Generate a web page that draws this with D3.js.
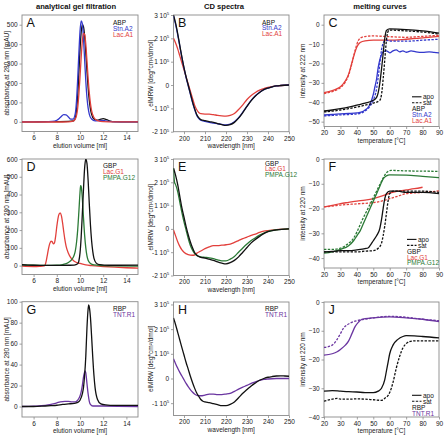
<!DOCTYPE html>
<html><head><meta charset="utf-8">
<script src="https://cdn.jsdelivr.net/npm/d3@7"></script>
<style>body{margin:0;background:#fff}svg text{font-family:"Liberation Sans",Arial,sans-serif}</style>
</head><body><svg id="c" width="444" height="435"></svg>
<script>
// ---------------- DATA ----------------
const columnTitles = ["analytical gel filtration", "CD spectra", "melting curves"];
const gelTicksX = [6, 8, 10, 12, 14];
const cdTicksX = [200, 210, 220, 230, 240, 250];
const meltTicksX = [20, 30, 40, 50, 60, 70, 80, 90];

// Panel A: gel filtration (elution volume ml, mAU)
const A_ABP = [[5,0],[6,0],[7,0.5],[8,1],[9,2],[9.4,4],[9.6,20],[9.7,60],[9.8,130],[9.9,250],[10.0,370],[10.1,460],[10.2,500],[10.3,490],[10.4,440],[10.5,355],[10.6,260],[10.7,175],[10.8,110],[10.9,65],[11.0,38],[11.2,14],[11.5,8],[11.8,14],[12.0,16],[12.3,11],[12.6,4],[13,1],[14,0],[15,0]];
const A_StnA2 = [[5,0],[7,0],[7.6,2],[8,8],[8.3,22],[8.6,37],[8.8,36],[9.0,25],[9.2,14],[9.4,14],[9.6,45],[9.7,110],[9.8,220],[9.9,350],[10.0,465],[10.1,520],[10.2,505],[10.3,430],[10.4,320],[10.5,210],[10.6,125],[10.7,72],[10.8,40],[11.0,14],[11.3,5],[11.8,7],[12.1,6],[12.5,2],[13,0],[15,0]];
const A_LacA1 = [[5,-1],[7,-1],[8,-1],[9,0],[9.4,3],[9.6,15],[9.8,70],[9.9,140],[10.0,230],[10.1,330],[10.2,415],[10.3,455],[10.4,450],[10.5,400],[10.6,315],[10.7,225],[10.8,150],[10.9,95],[11.0,58],[11.2,22],[11.5,6],[12,1],[13,0],[15,0]];

// Panel B: CD spectra (nm, 10^5 deg cm2/dmol)
const B_ABP = [[195,3.0],[196,2.65],[197,2.2],[198,1.7],[199,1.2],[200,0.75],[201,0.35],[202,0.0],[203,-0.35],[204,-0.7],[205,-1.0],[206,-1.25],[207,-1.4],[208,-1.48],[210,-1.53],[212,-1.57],[214,-1.6],[216,-1.65],[218,-1.7],[220,-1.73],[222,-1.7],[224,-1.6],[226,-1.42],[228,-1.18],[230,-0.92],[232,-0.67],[234,-0.47],[236,-0.32],[238,-0.2],[240,-0.13],[242,-0.08],[244,-0.04],[246,-0.02],[250,0]];
const B_StnA2 = [[195,2.95],[196,2.6],[197,2.15],[198,1.66],[199,1.17],[200,0.72],[201,0.32],[202,-0.03],[203,-0.38],[204,-0.73],[205,-1.03],[206,-1.28],[207,-1.43],[208,-1.51],[210,-1.56],[212,-1.6],[214,-1.63],[216,-1.66],[218,-1.69],[220,-1.71],[222,-1.68],[224,-1.57],[226,-1.4],[228,-1.16],[230,-0.9],[232,-0.66],[234,-0.46],[236,-0.31],[238,-0.2],[240,-0.13],[242,-0.08],[244,-0.04],[246,-0.02],[250,0]];
const B_LacA1 = [[195,2.0],[196,1.8],[197,1.55],[198,1.25],[199,0.95],[200,0.65],[201,0.35],[202,0.05],[203,-0.25],[204,-0.55],[205,-0.85],[206,-1.05],[207,-1.18],[208,-1.23],[210,-1.25],[212,-1.25],[214,-1.27],[216,-1.3],[218,-1.32],[220,-1.33],[222,-1.3],[224,-1.22],[226,-1.05],[228,-0.85],[230,-0.62],[232,-0.45],[234,-0.32],[236,-0.22],[238,-0.15],[240,-0.1],[244,-0.04],[250,0]];

// Panel C: melting curves (°C, intensity at 222 nm)
const C_ABP_apo = [[20,-44.5],[25,-44],[30,-43.3],[35,-42.5],[40,-41.5],[45,-40.5],[50,-39],[52,-37.5],[53,-35],[54,-30],[55,-23],[56,-15],[57,-7],[58,-3],[60,-2.2],[65,-2.3],[70,-2.5],[80,-3.2],[90,-4.3]];
const C_ABP_sat = [[20,-45],[25,-44.6],[30,-44],[35,-43.3],[40,-42.5],[45,-41.5],[50,-40.5],[54,-39],[55,-36],[56,-28],[57,-18],[58,-8],[59,-3.5],[60,-2.8],[70,-3.2],[80,-3.8],[90,-4.8]];
const C_StnA2_apo = [[20,-46.5],[25,-46.3],[30,-46],[35,-45.8],[40,-45.5],[43,-45],[45,-44],[47,-42.5],[48,-41],[50,-36],[51,-32],[52,-28],[53,-22],[54,-18],[55,-15.5],[56,-14],[58,-13.5],[60,-14.5],[62,-13.5],[64,-13],[66,-14],[68,-13.5],[70,-14.2],[73,-13.5],[76,-14],[80,-14.3],[84,-14],[87,-14.3],[90,-14.5]];
const C_StnA2_sat = [[20,-47],[25,-46.8],[30,-46.5],[35,-46.3],[40,-46],[43,-45.5],[45,-44.5],[48,-42],[50,-39],[52,-33],[53,-27],[54,-20],[55,-13],[56,-9.5],[57,-8.3],[58,-8],[60,-8.5],[70,-8.5],[80,-8],[90,-7.5]];
const C_LacA1_apo = [[20,-35],[25,-34],[28,-33],[30,-32],[33,-29],[35,-25.5],[37,-19.5],[38,-16.5],[40,-11.5],[42,-9.2],[45,-8.3],[50,-8],[60,-8],[70,-7.5],[80,-6.8],[90,-6]];
const C_LacA1_sat = [[20,-35.5],[25,-34.5],[28,-33.5],[30,-32.5],[33,-29.5],[35,-26],[37,-20],[39,-13],[41,-8],[43,-6.5],[46,-6],[50,-5.8],[60,-6.2],[70,-6.5],[80,-6],[90,-5.5]];

// Panel D: gel filtration
const D_GBP = [[5,5],[5.5,3],[6,2],[7,1],[8,1],[9,2],[9.5,3],[9.8,10],[9.9,25],[10.0,70],[10.1,160],[10.2,290],[10.3,430],[10.4,550],[10.5,600],[10.6,575],[10.7,480],[10.8,350],[10.9,230],[11.0,140],[11.1,80],[11.2,42],[11.4,14],[11.7,5],[12.5,2],[15,3]];
const D_LacG1 = [[5,-3],[6,-5],[6.5,-4],[6.9,-2],[7.0,5],[7.1,30],[7.2,65],[7.3,100],[7.4,125],[7.5,137],[7.6,135],[7.7,123],[7.8,128],[7.9,165],[8.0,220],[8.1,265],[8.2,290],[8.3,297],[8.4,280],[8.5,240],[8.6,190],[8.7,145],[8.8,110],[9.0,70],[9.2,45],[9.5,25],[10,12],[10.5,4],[11,0],[12,-5],[13,-9],[14,-12],[15,-14]];
const D_PMPAG12 = [[5,4],[6,2],[7,1],[8,2],[8.5,6],[9.0,18],[9.3,35],[9.5,60],[9.6,85],[9.7,130],[9.8,200],[9.9,300],[10.0,410],[10.05,450],[10.1,445],[10.2,380],[10.3,270],[10.4,170],[10.5,100],[10.6,55],[10.7,30],[10.9,12],[11.2,4],[12,0],[13,-2],[15,-3]];

// Panel E: CD spectra
const E_GBP = [[195,2.6],[196,2.3],[197,1.9],[198,1.4],[199,0.9],[200,0.5],[201,0.1],[202,-0.25],[203,-0.55],[204,-0.8],[205,-1.0],[206,-1.12],[207,-1.18],[208,-1.22],[210,-1.25],[212,-1.3],[214,-1.35],[216,-1.42],[218,-1.47],[220,-1.5],[222,-1.45],[224,-1.35],[226,-1.2],[228,-1.0],[230,-0.8],[232,-0.6],[234,-0.45],[236,-0.32],[238,-0.2],[240,-0.12],[244,-0.04],[250,0]];
const E_LacG1 = [[195,-0.05],[196,-0.3],[197,-0.55],[198,-0.75],[199,-0.9],[200,-1.0],[202,-1.1],[204,-1.13],[205,-1.12],[206,-1.05],[208,-0.95],[210,-0.85],[212,-0.77],[214,-0.72],[216,-0.72],[218,-0.7],[220,-0.68],[222,-0.65],[224,-0.58],[226,-0.5],[228,-0.42],[230,-0.35],[232,-0.28],[234,-0.22],[236,-0.15],[238,-0.1],[240,-0.07],[244,-0.03],[250,0]];
const E_PMPAG12 = [[195,2.6],[195.5,2.0],[196,1.9],[197,1.6],[198,1.15],[199,0.7],[200,0.3],[201,-0.05],[202,-0.4],[203,-0.7],[204,-0.9],[205,-1.05],[206,-1.13],[207,-1.18],[208,-1.2],[210,-1.22],[212,-1.24],[214,-1.28],[216,-1.33],[218,-1.37],[220,-1.37],[222,-1.3],[224,-1.18],[226,-1.0],[228,-0.82],[230,-0.65],[232,-0.5],[234,-0.38],[236,-0.27],[238,-0.18],[240,-0.11],[244,-0.04],[250,0]];

// Panel F: melting curves (intensity at 220 nm)
const F_GBP_apo = [[20,-37.5],[25,-37.3],[30,-37],[35,-37],[40,-36.7],[45,-36.2],[47,-35.8],[48,-35],[50,-33],[52,-31],[54,-28],[55,-24.5],[56,-20],[57,-16],[58,-14],[60,-13],[65,-13],[70,-13.5],[80,-13.5],[90,-14]];
const F_GBP_sat = [[20,-37.5],[30,-37.5],[40,-37.5],[45,-37.2],[50,-37],[53,-36],[55,-34],[56,-31],[57,-27],[58,-22],[59,-17],[60,-14],[62,-13],[70,-13],[80,-13],[90,-13.5]];
const F_LacG1_apo = [[20,-19.3],[25,-18.7],[30,-18],[35,-17.5],[40,-17],[45,-16.6],[50,-16],[55,-15],[60,-13.8],[65,-13],[70,-12.5],[75,-12],[80,-11.4]];
const F_LacG1_sat = [[20,-19.3],[25,-19],[30,-18.6],[40,-18.1],[50,-17.6],[55,-17],[60,-16],[65,-15],[70,-14],[80,-13.5],[90,-12.9]];
const F_PMPAG12_apo = [[20,-38],[25,-37.5],[30,-36.5],[35,-35],[38,-33],[40,-31],[42,-29],[44,-26],[46,-23],[48,-20],[50,-17],[52,-14],[54,-11],[56,-8],[58,-6.8],[60,-6.4],[70,-6.5],[80,-7],[90,-7.5]];
const F_PMPAG12_sat = [[20,-36.5],[25,-36.5],[30,-36],[35,-34],[38,-32],[40,-29.5],[43,-25],[46,-21],[49,-17],[52,-13],[55,-9],[57,-6.5],[59,-5],[61,-4.6],[70,-4.8],[80,-4.9],[90,-5]];

// Panel G: gel filtration
const G_RBP = [[5,0],[6,0],[7,0.5],[7.5,0.8],[8,1.2],[8.5,2],[9,2.5],[9.5,3],[9.8,4],[10.0,6],[10.2,12],[10.3,18],[10.4,30],[10.5,48],[10.6,75],[10.7,93],[10.75,97],[10.8,95],[10.9,85],[11.0,67],[11.1,47],[11.2,30],[11.3,18],[11.5,7],[11.8,2.5],[12.2,1.5],[13,1],[15,1]];
const G_TNTR1 = [[5,0],[6,0.3],[7,1],[7.5,2],[8,3.5],[8.3,4.5],[8.7,5],[9.0,5],[9.3,4.5],[9.6,4.5],[9.8,6],[10.0,10],[10.1,14],[10.2,20],[10.3,28],[10.4,33],[10.45,34],[10.5,32],[10.6,22],[10.7,12],[10.8,5],[10.9,2],[11.1,0.5],[12,0.5],[15,0]];

// Panel H: CD spectra
const H_RBP = [[195,2.45],[196,2.18],[197,1.87],[198,1.56],[199,1.25],[200,0.95],[201,0.65],[202,0.38],[203,0.1],[204,-0.15],[205,-0.38],[206,-0.58],[207,-0.72],[208,-0.85],[209,-0.92],[210,-0.95],[212,-0.98],[214,-1.02],[216,-1.06],[218,-1.1],[220,-1.1],[222,-1.05],[224,-0.95],[226,-0.78],[228,-0.6],[230,-0.45],[232,-0.3],[234,-0.18],[236,-0.07],[238,0.0],[240,0.05],[242,0.08],[244,0.1],[246,0.11],[248,0.1],[250,0.09]];
const H_TNTR1 = [[195,0.8],[196,0.6],[197,0.42],[198,0.25],[199,0.1],[200,-0.05],[201,-0.2],[202,-0.33],[203,-0.45],[204,-0.55],[205,-0.63],[206,-0.68],[207,-0.7],[208,-0.7],[210,-0.67],[212,-0.63],[214,-0.63],[216,-0.65],[218,-0.65],[220,-0.63],[222,-0.6],[224,-0.52],[226,-0.43],[228,-0.35],[230,-0.28],[232,-0.2],[234,-0.14],[236,-0.08],[238,-0.04],[240,-0.02],[244,0.0],[250,0.0]];

// Panel J: melting curves
const J_RBP_apo = [[20,-31],[25,-30.8],[30,-31],[35,-31.2],[40,-31.3],[45,-31.5],[50,-31.5],[53,-31],[55,-30],[57,-27],[58,-24],[59,-21],[60,-18],[62,-15],[65,-13],[68,-12],[70,-11.7],[75,-11.8],[80,-12],[90,-12.5]];
const J_RBP_sat = [[20,-34.5],[25,-33.8],[28,-33.5],[30,-33.8],[35,-33.8],[40,-33.7],[45,-33.8],[50,-34],[55,-34.2],[57,-33.5],[60,-31.5],[62,-28],[64,-23],[66,-19],[68,-16],[70,-14.5],[72,-13.8],[75,-13.5],[80,-13.5],[90,-13.5]];
const J_TNTR1_apo = [[20,-18.5],[25,-18],[28,-17.3],[30,-16.5],[33,-15],[35,-13.5],[37,-11],[39,-8.5],[41,-7],[43,-6],[45,-5.8],[50,-5.5],[60,-5.2],[70,-5.5],[80,-6],[90,-6.8]];
const J_TNTR1_sat = [[20,-15.8],[25,-15],[28,-13],[30,-11],[32,-9],[34,-8],[36,-7.3],[40,-6.5],[45,-6],[50,-5.5],[60,-5],[70,-5.3],[80,-6],[90,-6.5]];

// ---------------- STYLE / LAYOUT ----------------
const COL = {black:"#111111", blue:"#3338cc", red:"#e2403c", green:"#2b7a36", purple:"#6a35a0"};
const FONT = 6.5;
const svg = d3.select("#c");
svg.append("rect").attr("width",444).attr("height",435).attr("fill","#fff");

const titleX = [76, 224, 380];
columnTitles.forEach((t,i)=>svg.append("text").attr("x",titleX[i]).attr("y",8.5)
  .attr("text-anchor","middle").attr("font-size",7.6).attr("font-weight","bold").attr("fill","#111").text(t));

const colX = [[22,138],[173.5,289],[324,439]];
const yTitleX = [8.7, 152.5, 305];

const panels = [
 {id:"A", col:0, y:[15,131.5], xd:[5,15], yd:[-50,550], xt:gelTicksX, yt:[0,100,200,300,400,500], kind:"gel",
  xlab:"elution volume [ml]", ylab:"absorbance at 280 nm [mAU]",
  series:[{d:A_ABP,c:COL.black},{d:A_StnA2,c:COL.blue},{d:A_LacA1,c:COL.red}],
  legend:{x:113, y:25, names:["ABP","Stn.A2","Lac.A1"], colors:[COL.black,COL.blue,COL.red]}},
 {id:"B", col:1, y:[15,131.7], xd:[195,250], yd:[-2,3], xt:cdTicksX, yt:[-2,-1,0,1,2,3], kind:"cd",
  xlab:"wavelength [nm]", ylab:"elMRW [deg*cm²/dmol]",
  series:[{d:B_LacA1,c:COL.red},{d:B_StnA2,c:COL.blue},{d:B_ABP,c:COL.black}],
  legend:{x:262, y:24.5, names:["ABP","Stn.A2","Lac.A1"], colors:[COL.black,COL.blue,COL.red]}},
 {id:"C", col:2, y:[15,126.5], xd:[20,90], yd:[-52.5,5], xt:meltTicksX, yt:[0,-10,-20,-30,-40,-50], kind:"melt",
  xlab:"temperature [°C]", ylab:"intensity at 222 nm",
  series:[{d:C_LacA1_apo,c:COL.red},{d:C_LacA1_sat,c:COL.red,dash:true},{d:C_StnA2_apo,c:COL.blue},{d:C_StnA2_sat,c:COL.blue,dash:true},{d:C_ABP_apo,c:COL.black},{d:C_ABP_sat,c:COL.black,dash:true}],
  legend:{x:412, y:99, names:["ABP","Stn.A2","Lac.A1"], colors:[COL.black,COL.blue,COL.red]}},
 {id:"D", col:0, y:[159,274.5], xd:[5,15], yd:[-50,600], xt:gelTicksX, yt:[0,100,200,300,400,500,600], kind:"gel",
  xlab:"elution volume [ml]", ylab:"absorbance at 280 nm [mAU]",
  series:[{d:D_LacG1,c:COL.red},{d:D_PMPAG12,c:COL.green},{d:D_GBP,c:COL.black}],
  legend:{x:103, y:168, names:["GBP","Lac.G1","PMPA.G12"], colors:[COL.black,COL.red,COL.green]}},
 {id:"E", col:1, y:[159,275.5], xd:[195,250], yd:[-2,3], xt:cdTicksX, yt:[-2,-1,0,1,2,3], kind:"cd",
  xlab:"wavelength [nm]", ylab:"elMRW [deg*cm²/dmol]",
  series:[{d:E_LacG1,c:COL.red},{d:E_PMPAG12,c:COL.green},{d:E_GBP,c:COL.black}],
  legend:{x:265, y:165.6, names:["GBP","Lac.G1","PMPA.G12"], colors:[COL.black,COL.red,COL.green]}},
 {id:"F", col:2, y:[159,268], xd:[20,90], yd:[-44,0], xt:meltTicksX, yt:[0,-10,-20,-30,-40], kind:"melt",
  xlab:"temperature [°C]", ylab:"intensity at 220 nm",
  series:[{d:F_LacG1_apo,c:COL.red},{d:F_LacG1_sat,c:COL.red,dash:true},{d:F_PMPAG12_apo,c:COL.green},{d:F_PMPAG12_sat,c:COL.green,dash:true},{d:F_GBP_apo,c:COL.black},{d:F_GBP_sat,c:COL.black,dash:true}],
  legend:{x:407, y:241.6, names:["GBP","Lac.G1","PMPA.G12"], colors:[COL.black,COL.red,COL.green]}},
 {id:"G", col:0, y:[301.7,417], xd:[5,15], yd:[-10,100], xt:gelTicksX, yt:[0,20,40,60,80,100], kind:"gel",
  xlab:"elution volume [ml]", ylab:"absorbance at 280 nm [mAU]",
  series:[{d:G_TNTR1,c:COL.purple},{d:G_RBP,c:COL.black}],
  legend:{x:113, y:311.3, names:["RBP","TNT.R1"], colors:[COL.black,COL.purple]}},
 {id:"H", col:1, y:[302,415.5], xd:[195,250], yd:[-1.5,3.1], xt:cdTicksX, yt:[-1,0,1,2,3], kind:"cd",
  xlab:"wavelength [nm]", ylab:"elMRW [deg*cm²/dmol]",
  series:[{d:H_TNTR1,c:COL.purple},{d:H_RBP,c:COL.black}],
  legend:{x:265, y:311.3, names:["RBP","TNT.R1"], colors:[COL.black,COL.purple]}},
 {id:"J", col:2, y:[302,417], xd:[20,90], yd:[-40,0], xt:meltTicksX, yt:[0,-10,-20,-30,-40], kind:"melt",
  xlab:"temperature [°C]", ylab:"intensity at 220 nm",
  series:[{d:J_TNTR1_apo,c:COL.purple},{d:J_TNTR1_sat,c:COL.purple,dash:true},{d:J_RBP_apo,c:COL.black},{d:J_RBP_sat,c:COL.black,dash:true}],
  legend:{x:412, y:397.5, names:["RBP","TNT.R1"], colors:[COL.black,COL.purple]}}
];

const FRAME = "#8a8a8a";
panels.forEach(p=>{
  const [x0,x1] = colX[p.col];
  const [y0,y1] = p.y;
  const x = d3.scaleLinear().domain(p.xd).range([x0,x1]);
  const y = d3.scaleLinear().domain(p.yd).range([y1,y0]);
  const g = svg.append("g");

  // axes
  const ax = g.append("g").attr("transform",`translate(0,${y1})`)
    .call(d3.axisBottom(x).tickValues(p.xt).tickSize(2.5).tickSizeOuter(0).tickPadding(1.8).tickFormat(d3.format("d")));
  const ay = g.append("g").attr("transform",`translate(${x0},0)`)
    .call(d3.axisLeft(y).tickValues(p.yt).tickSize(2.5).tickSizeOuter(0).tickPadding(1.8).tickFormat(d3.format("d")));
  [ax,ay].forEach(a=>{
    a.select(".domain").remove();
    a.selectAll(".tick line").attr("stroke",FRAME).attr("stroke-width",0.8);
    a.selectAll(".tick text").attr("font-size",FONT).attr("fill","#222").attr("font-family",'"Liberation Sans",Arial,sans-serif');
  });
  if (p.kind==="cd") {
    ay.selectAll(".tick text").each(function(v){
      const t = d3.select(this); t.text("");
      if (v===0) { t.text("0"); return; }
      t.append("tspan").text(v+" 10");
      t.append("tspan").attr("font-size",4.3).attr("dy",-2.6).text("5");
    });
  }

  // frame
  g.append("rect").attr("x",x0).attr("y",y0).attr("width",x1-x0).attr("height",y1-y0)
    .attr("fill","none").attr("stroke",FRAME).attr("stroke-width",0.9);

  // clip
  const cid = "clip"+p.id;
  svg.append("clipPath").attr("id",cid).append("rect").attr("x",x0).attr("y",y0).attr("width",x1-x0).attr("height",y1-y0);

  const line = d3.line().x(d=>x(d[0])).y(d=>y(d[1])).curve(d3.curveMonotoneX);
  const sg = g.append("g").attr("clip-path",`url(#${cid})`);
  p.series.forEach(s=>{
    sg.append("path").attr("d",line(s.d)).attr("fill","none").attr("stroke",s.c)
      .attr("stroke-width",1.3).attr("stroke-linejoin","round")
      .attr("stroke-dasharray",s.dash?"2.4,1.4":null);
  });

  // panel letter
  g.append("text").attr("x",x0+4.5).attr("y",y0+12.2).attr("font-size",12.5).attr("fill","#111").text(p.id);

  // axis titles
  g.append("text").attr("x",(x0+x1)/2).attr("y",y1+16).attr("text-anchor","middle")
    .attr("font-size",FONT).attr("fill","#222").text(p.xlab);
  g.append("text").attr("transform",`translate(${yTitleX[p.col]},${(y0+y1)/2}) rotate(-90)`)
    .attr("text-anchor","middle").attr("font-size",FONT).attr("fill","#222").text(p.ylab);

  // legend
  const L = p.legend;
  let ly = L.y;
  if (p.kind==="melt") {
    [["apo",null],["sat","2.4,1.4"]].forEach(([lab,dash])=>{
      g.append("line").attr("x1",L.x).attr("x2",L.x+9.5).attr("y1",ly-2.2).attr("y2",ly-2.2)
        .attr("stroke","#111").attr("stroke-width",1.1).attr("stroke-dasharray",dash);
      g.append("text").attr("x",L.x+11).attr("y",ly).attr("font-size",FONT).attr("fill","#111").text(lab);
      ly += 6;
    });
    ly += 0.3;
  }
  L.names.forEach((n,i)=>{
    g.append("text").attr("x",L.x).attr("y",ly+i*5.75).attr("font-size",FONT).attr("fill",L.colors[i]).text(n);
  });
});
</script>
</body></html>
